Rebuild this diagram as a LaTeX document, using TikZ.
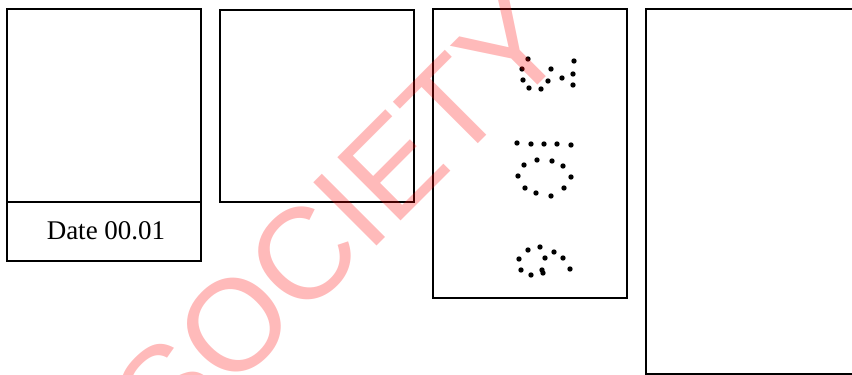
\documentclass[tikz,border=0pt]{standalone}
\usepackage{fontspec}
\setmainfont{Liberation Serif}
\newfontfamily\markfont{Liberation Sans}
\begin{document}
\begin{tikzpicture}[x=1pt,y=-1pt,
    frame/.style={line width=2.7pt},
    pip/.style={fill=black}]
    \clip (0,0) rectangle (852,375);

    % frames
    \draw[frame] (7,9) rectangle (201,261);
    \draw[frame] (7,202) -- (201,202);
    \draw[frame] (220,10) rectangle (414,202);
    \draw[frame] (433,9) rectangle (627,298);
    \draw[frame] (646,9) rectangle (870,374);

    \node (date) at (106,231) {\fontsize{27}{30}\selectfont Date 00.01};

    % dot patterns
    \foreach \x/\y in {528/59,522/69,523/80,529/88,541/89,548/81,551/69,562/78,574/61,573/74,573/85}
        {\fill[pip] (\x,\y) circle (2.7);}
    \foreach \x/\y in {517/143,531/144,544/144,557/144,571/145,524/165,537/160,552/161,563/166,518/176,571/177,525/188,536/193,551/196,564/188}
        {\fill[pip] (\x,\y) circle (2.7);}
    \foreach \x/\y in {540/247,528/250,554/252,519/259,545/258,563/258,521/270,531/275,542/270,543/273,570/269}
        {\fill[pip] (\x,\y) circle (2.7);}

    % watermark
    \node (stamp) [rotate=45, text=red, text opacity=0.27, inner sep=0pt]
        at (339,220) {\markfont\fontsize{130}{130}\selectfont SOCIETY};
\end{tikzpicture}
\end{document}
